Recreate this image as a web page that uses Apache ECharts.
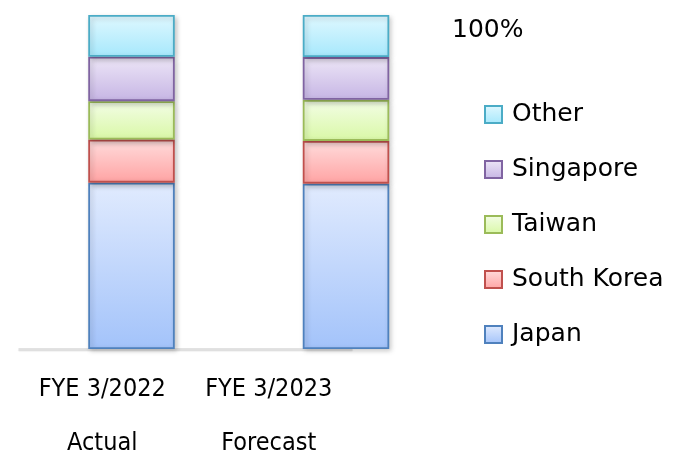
<!DOCTYPE html>
<html>
<head>
<meta charset="utf-8">
<script src="https://cdn.jsdelivr.net/npm/echarts@6/dist/echarts.min.js"></script>
<style>html,body{margin:0;padding:0;background:#fff}#c{width:674px;height:455px}</style>
</head>
<body>
<div id="c"></div>
<script>
const categories = ['FYE 3/2022', 'FYE 3/2023'];
const subLabels = ['Actual', 'Forecast'];
const seriesNames = ['Japan', 'South Korea', 'Taiwan', 'Singapore', 'Other'];
const japan = [49.8, 49.5];
const southKorea = [12.9, 12.8];
const taiwan = [11.5, 12.3];
const singapore = [13.3, 12.8];
const other = [12.5, 12.6];
const topLabel = '100%';

const values = [japan, southKorea, taiwan, singapore, other];
const styles = [
  {top: '#E1EBFE', bottom: '#A3C3FA', border: '#4F81BD'},
  {top: '#FFDCDC', bottom: '#FFA3A3', border: '#C0504D'},
  {top: '#F3FDE6', bottom: '#D9F8A6', border: '#9BBB59'},
  {top: '#EDE6F7', bottom: '#C6B5E4', border: '#8064A2'},
  {top: '#E0F8FF', bottom: '#A6E8FC', border: '#4BACC6'}
];

const chart = echarts.init(document.getElementById('c'));
chart.setOption({
  animation: false,
  title: {
    text: topLabel, left: 447, top: 13,
    textStyle: {fontFamily: 'DejaVu Sans', fontSize: 25, fontWeight: 'normal', color: '#000'}
  },
  legend: {
    orient: 'vertical', left: 479, top: 94,
    data: seriesNames.slice().reverse(),
    itemWidth: 17, itemHeight: 17, itemGap: 24,
    icon: 'rect',
    textStyle: {fontFamily: 'DejaVu Sans', fontSize: 25, color: '#000', lineHeight: 31, padding: [0, 0, 0, 5]}
  },
  grid: [
    {left: 24.25, right: 220.75, top: 15, bottom: 106, outerBoundsMode: 'none', containLabel: false},
    {left: 19, right: 322, top: 15, bottom: 106, outerBoundsMode: 'none', containLabel: false}
  ],
  xAxis: [
    {type: 'category', gridIndex: 0, data: categories, show: false},
    {type: 'category', gridIndex: 1, data: categories,
      axisLine: {lineStyle: {color: '#D9D9D9', width: 1.5, shadowColor: 'rgba(0,0,0,0.15)', shadowOffsetY: 1.5, shadowBlur: 1}},
      axisTick: {show: false},
      axisLabel: {
        interval: 0, margin: 13, lineHeight: 54, hideOverlap: false,
        fontFamily: 'DejaVu Sans Condensed, Liberation Sans', fontSize: 25, color: '#000',
        formatter: (v, i) => v + '\n' + subLabels[i]
      }
    }
  ],
  yAxis: [
    {type: 'value', gridIndex: 0, min: 0, max: 100, show: false},
    {type: 'value', gridIndex: 1, min: 0, max: 100, show: false}
  ],
  series: seriesNames.map((name, k) => ({
    name, type: 'bar', stack: 'total', xAxisIndex: 0, yAxisIndex: 0,
    barWidth: 86.5,
    data: values[k],
    itemStyle: {
      color: {type: 'linear', x: 0, y: 0, x2: 0, y2: 1,
        colorStops: [{offset: 0, color: styles[k].top}, {offset: 1, color: styles[k].bottom}]},
      borderColor: styles[k].border, borderWidth: 1.8,
      shadowColor: 'rgba(0,0,0,0.22)', shadowBlur: 5, shadowOffsetX: 2, shadowOffsetY: 2
    }
  }))
});
</script>
</body>
</html>
